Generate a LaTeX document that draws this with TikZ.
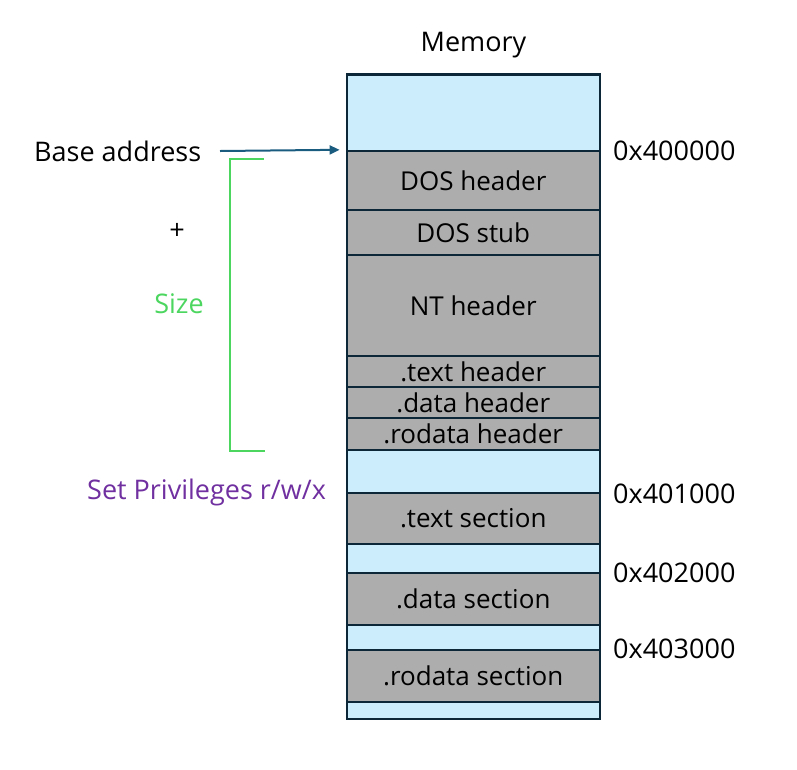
\documentclass[tikz,border=0pt]{standalone}
\usepackage{fontspec}
\setmainfont{Open Sans}
\usetikzlibrary{arrows.meta}
\definecolor{memblue}{RGB}{204,237,252}
\definecolor{memgray}{RGB}{173,173,173}
\definecolor{memline}{RGB}{12,40,56}
\definecolor{arrowblue}{RGB}{26,92,128}
\definecolor{sizegreen}{RGB}{76,214,96}
\definecolor{privpurple}{RGB}{112,48,160}
\tikzset{
  seg/.style={draw=memline, line width=2.4pt, minimum width=253pt, inner sep=0pt, font=\fontsize{26}{28}\selectfont},
  lbl/.style={inner sep=0pt, font=\fontsize{27}{30}\selectfont, anchor=west},
  txt/.style={inner sep=0pt, font=\fontsize{27}{30}\selectfont},
}
\newcommand{\memseg}[5]{%
  \node[seg, fill=#4, minimum height={(#3-#2)*1pt}] (#1) at (473.25,{(#2+#3)/2}) {#5};}
\begin{document}
\begin{tikzpicture}[x=1pt,y=-1pt]
\useasboundingbox (0,0) rectangle (797,769);
\memseg{s0}{74.5}{151}{memblue}{}
\memseg{s1}{151}{210}{memgray}{DOS header}
\memseg{s2}{210}{255}{memgray}{DOS stub}
\memseg{s3}{255}{356}{memgray}{NT header}
\memseg{s4}{356}{387}{memgray}{.text header}
\memseg{s5}{387}{418}{memgray}{.data header}
\memseg{s6}{418}{450}{memgray}{.rodata header}
\memseg{s7}{450}{493}{memblue}{}
\memseg{s8}{493}{544}{memgray}{.text section}
\memseg{s9}{544}{573}{memblue}{}
\memseg{s10}{573}{625}{memgray}{.data section}
\memseg{s11}{625}{650}{memblue}{}
\memseg{s12}{650}{702}{memgray}{.rodata section}
\memseg{s13}{702}{719}{memblue}{}
\node[txt] (mem) at (473.5,45) {Memory};
\node[lbl] (base) at (34,151) {Base address};
\node[txt] (plus) at (177,231) {+};
\node[txt, text=sizegreen] (size) at (179,304) {Size};
\node[lbl, text=privpurple] (priv) at (87,492) {Set Privileges r/w/x};
\node[lbl] (a0) at (613,151) {0x400000};
\node[lbl] (a1) at (613,494) {0x401000};
\node[lbl] (a2) at (613,573) {0x402000};
\node[lbl] (a3) at (613,649) {0x403000};
\coordinate (arrstart) at (220,151);
\coordinate (arrend) at ([xshift=-6pt]s1.north west);
\draw[arrowblue, line width=2pt, -{Triangle[length=10pt,width=9pt]}] (arrstart) -- (arrend);
\draw[sizegreen, line width=2.2pt] (264,159) -- (230,159) -- (230,451) -- (265,451);
\end{tikzpicture}
\end{document}
